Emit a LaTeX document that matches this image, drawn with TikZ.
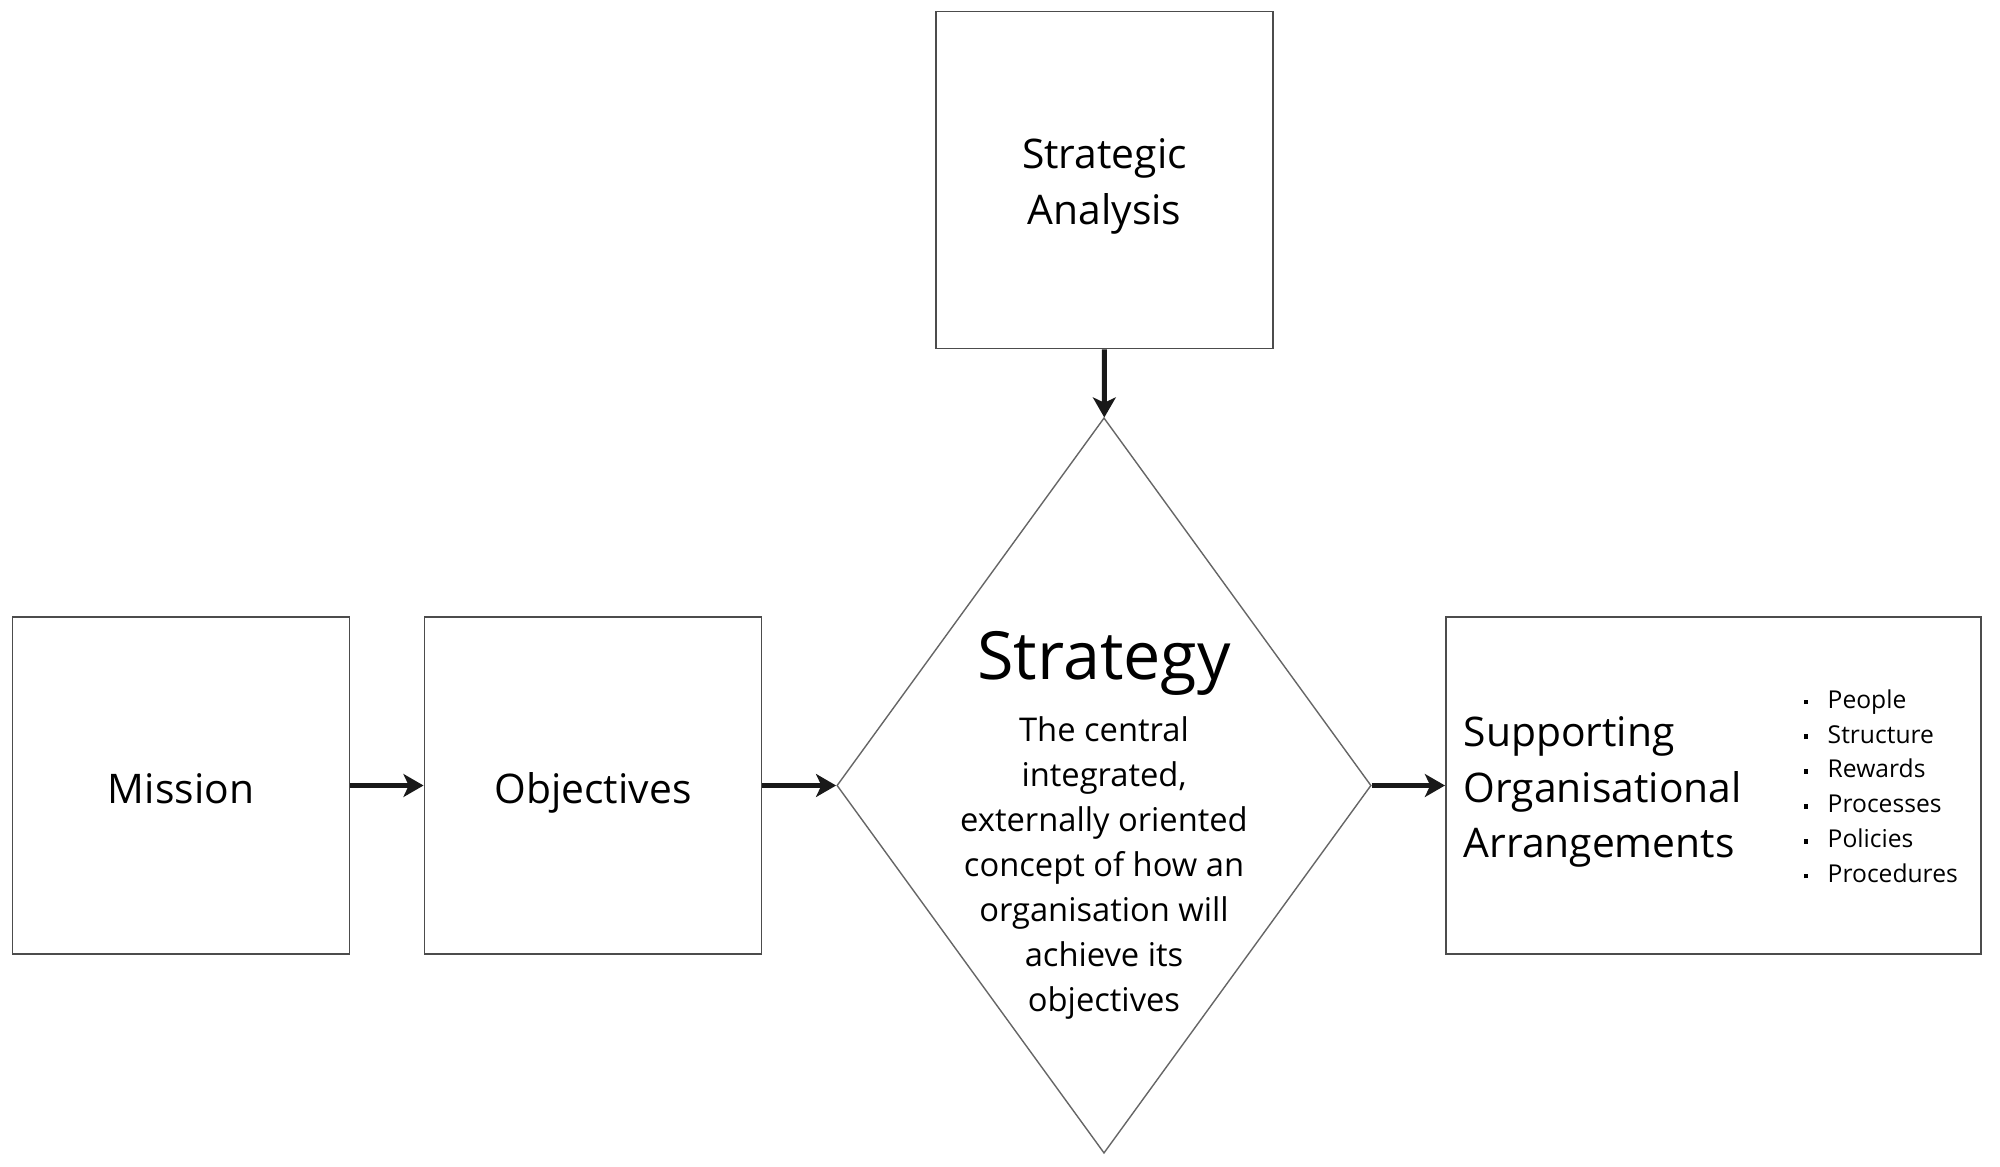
\documentclass[tikz,border=0pt]{standalone}
\usepackage{fontspec}
\setmainfont{Open Sans}
\usepackage{tikz}
\usetikzlibrary{shapes, arrows.meta, positioning, calc}

\newcommand{\bulletdot}{\makebox[0.24cm][l]{\rule[0.3ex]{1.3pt}{1.3pt}}}

\begin{document}
\begin{tikzpicture}[x=0.01cm, y=-0.01cm,
  block/.style={draw=black!70, line width=0.5pt, minimum width=3.37cm,
    minimum height=3.37cm, inner sep=0pt},
  flow/.style={line width=1.4pt, draw=black!90,
    -{Stealth[length=5.7pt,width=6.5pt,inset=1.5pt]}},
  big/.style={font=\fontsize{11.6}{15.9}\selectfont},
  small/.style={font=\fontsize{9.3}{12.8}\selectfont},
  tiny/.style={font=\fontsize{7}{9.9}\selectfont}]
  \useasboundingbox (0,0) rectangle (2000,1167);

  % Boxes
  \node[block, big, text height=11pt, text depth=1pt] (mission) at (181,785.5) {Mission};
  \node[block, big, text height=11pt, text depth=1pt] (objectives) at (593,785.5) {Objectives};
  \node[block] (analysis) at (1104.5,180) {};
  \node[block, minimum width=5.35cm] (support) at (1713.5,785.5) {};

  % Central diamond
  \node[diamond, draw=black!60, line width=0.4pt, minimum width=5.34cm,
    minimum height=7.35cm, inner sep=0pt] (strategy) at (1104,785.5) {};

  % Box texts
  \node[big, align=center] (analysistext) at (1104.5,186) {Strategic\\Analysis};
  \node[font=\fontsize{18.9}{22}\selectfont] (title) at (1104,663) {Strategy};
  \node[small, align=center] (concept) at (1104,868)
    {The central\\integrated,\\externally oriented\\concept of how an\\organisation will\\achieve its\\objectives};

  % Supporting arrangements
  \node[big, align=left, inner sep=0pt, anchor=west] (supporttext) at (1463,792)
    {Supporting\\Organisational\\Arrangements};
  \node[tiny, align=left, inner sep=0pt, anchor=west] (items) at (1803,786)
    {\bulletdot People\\\bulletdot Structure\\\bulletdot Rewards\\\bulletdot Processes\\\bulletdot Policies\\\bulletdot Procedures};

  % Arrows
  \draw[flow] (mission) -- (objectives);
  \draw[flow] (objectives) -- (strategy);
  \draw[flow] (strategy) -- (support);
  \draw[flow] (analysis) -- (strategy);
\end{tikzpicture}
\end{document}
